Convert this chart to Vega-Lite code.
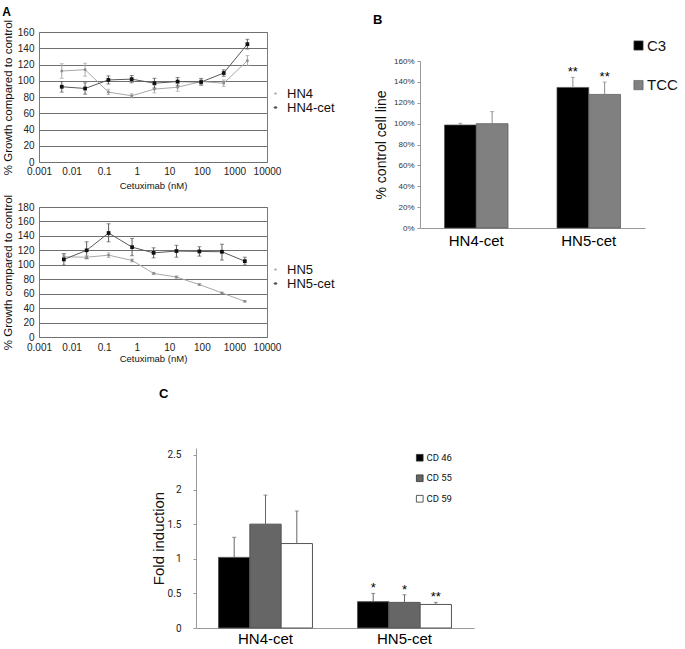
{
  "$schema": "https://vega.github.io/schema/vega-lite/v6.json",
  "padding": {"left": 1, "top": 5, "right": 0, "bottom": 0},
  "background": "white",
  "config": {
    "font": "Liberation Sans",
    "view": {"stroke": null},
    "axis": {"labelFont": "Liberation Sans", "titleFont": "Liberation Sans", "titleFontWeight": "normal", "labelColor": "#222", "titleColor": "#111"},
    "title": {"font": "Liberation Sans", "fontWeight": "bold", "fontSize": 13, "anchor": "start", "frame": "bounds", "color": "#000"},
    "legend": {"labelFont": "Liberation Sans", "labelColor": "#111", "padding": 0}
  },
  "datasets": {
    "aTop": [
      {"dose": 0.005, "v": 112, "lo": 103, "hi": 121, "s": "HN4"},
      {"dose": 0.026, "v": 113.6, "lo": 105.6, "hi": 121.6, "s": "HN4"},
      {"dose": 0.135, "v": 86, "lo": 83, "hi": 89.5, "s": "HN4"},
      {"dose": 0.7, "v": 81.5, "lo": 79, "hi": 84, "s": "HN4"},
      {"dose": 3.5, "v": 89.7, "lo": 85, "hi": 94.5, "s": "HN4"},
      {"dose": 18, "v": 92, "lo": 87, "hi": 97, "s": "HN4"},
      {"dose": 95, "v": 99, "lo": 95, "hi": 103, "s": "HN4"},
      {"dose": 470, "v": 97, "lo": 93, "hi": 101, "s": "HN4"},
      {"dose": 2500, "v": 124.7, "lo": 119, "hi": 131, "s": "HN4"},
      {"dose": 0.005, "v": 92.6, "lo": 86, "hi": 99, "s": "HN4-cet"},
      {"dose": 0.026, "v": 90.5, "lo": 83.5, "hi": 97.5, "s": "HN4-cet"},
      {"dose": 0.135, "v": 101, "lo": 96, "hi": 106, "s": "HN4-cet"},
      {"dose": 0.7, "v": 102, "lo": 97.5, "hi": 106.5, "s": "HN4-cet"},
      {"dose": 3.5, "v": 97, "lo": 91, "hi": 103, "s": "HN4-cet"},
      {"dose": 18, "v": 99, "lo": 94, "hi": 104, "s": "HN4-cet"},
      {"dose": 95, "v": 98.4, "lo": 94.5, "hi": 102.5, "s": "HN4-cet"},
      {"dose": 470, "v": 109.5, "lo": 105.5, "hi": 113.5, "s": "HN4-cet"},
      {"dose": 2500, "v": 145, "lo": 139, "hi": 151, "s": "HN4-cet"}
    ],
    "aBot": [
      {"dose": 0.0058, "v": 111, "lo": 108, "hi": 114, "s": "HN5"},
      {"dose": 0.029, "v": 110.5, "lo": 108, "hi": 113, "s": "HN5"},
      {"dose": 0.137, "v": 113.3, "lo": 110, "hi": 116.5, "s": "HN5"},
      {"dose": 0.72, "v": 106, "lo": 104, "hi": 108, "s": "HN5"},
      {"dose": 3.3, "v": 88, "lo": 86.5, "hi": 89.5, "s": "HN5"},
      {"dose": 16.6, "v": 83, "lo": 81.5, "hi": 84.5, "s": "HN5"},
      {"dose": 84, "v": 72.6, "lo": 71.5, "hi": 73.7, "s": "HN5"},
      {"dose": 414, "v": 61, "lo": 60, "hi": 62, "s": "HN5"},
      {"dose": 2084, "v": 49.4, "lo": 48.5, "hi": 50.3, "s": "HN5"},
      {"dose": 0.0058, "v": 107.4, "lo": 99.5, "hi": 115.5, "s": "HN5-cet"},
      {"dose": 0.029, "v": 120, "lo": 108.7, "hi": 131.8, "s": "HN5-cet"},
      {"dose": 0.137, "v": 144, "lo": 131.8, "hi": 156.8, "s": "HN5-cet"},
      {"dose": 0.72, "v": 124.4, "lo": 112.5, "hi": 136.5, "s": "HN5-cet"},
      {"dose": 3.3, "v": 116.5, "lo": 109.6, "hi": 123.5, "s": "HN5-cet"},
      {"dose": 16.6, "v": 119, "lo": 110.5, "hi": 127, "s": "HN5-cet"},
      {"dose": 84, "v": 118.5, "lo": 112, "hi": 125, "s": "HN5-cet"},
      {"dose": 414, "v": 118, "lo": 106.5, "hi": 128.5, "s": "HN5-cet"},
      {"dose": 2084, "v": 105, "lo": 99.5, "hi": 110.5, "s": "HN5-cet"}
    ],
    "b": [
      {"cell": "HN4-cet", "s": "C3", "v": 0.987, "hi": 1.003, "sig": ""},
      {"cell": "HN4-cet", "s": "TCC", "v": 1.0, "hi": 1.115, "sig": ""},
      {"cell": "HN5-cet", "s": "C3", "v": 1.347, "hi": 1.443, "sig": "**"},
      {"cell": "HN5-cet", "s": "TCC", "v": 1.28, "hi": 1.398, "sig": "**"}
    ],
    "c": [
      {"cell": "HN4-cet", "s": "CD 46", "v": 1.02, "hi": 1.31, "sig": ""},
      {"cell": "HN4-cet", "s": "CD 55", "v": 1.5, "hi": 1.92, "sig": ""},
      {"cell": "HN4-cet", "s": "CD 59", "v": 1.22, "hi": 1.69, "sig": ""},
      {"cell": "HN5-cet", "s": "CD 46", "v": 0.38, "hi": 0.5, "sig": "*"},
      {"cell": "HN5-cet", "s": "CD 55", "v": 0.37, "hi": 0.48, "sig": "*"},
      {"cell": "HN5-cet", "s": "CD 59", "v": 0.34, "hi": 0.37, "sig": "**"}
    ]
  },
  "columns": 1,
  "align": "none",
  "spacing": 25,
  "resolve": {"scale": {"color": "independent", "fill": "independent", "size": "independent", "xOffset": "independent"}, "legend": {"color": "independent", "fill": "independent", "size": "independent"}},
  "concat": [
    {
      "columns": 2,
      "align": "none",
      "spacing": 37,
      "resolve": {"scale": {"color": "independent", "fill": "independent", "size": "independent", "xOffset": "independent"}, "legend": {"color": "independent", "fill": "independent", "size": "independent"}},
      "concat": [
        {
          "columns": 1,
          "align": "none",
          "spacing": 2,
          "resolve": {"scale": {"color": "independent", "fill": "independent", "size": "independent"}, "legend": {"color": "independent", "fill": "independent", "size": "independent"}},
          "concat": [
            {
              "width": 228, "height": 130,
              "view": {"stroke": "#7a7a7a", "strokeWidth": 1},
              "title": {"text": "A", "offset": 0.5, "fontSize": 12},
              "data": {"name": "aTop"},
              "encoding": {
                "x": {"field": "dose", "type": "quantitative", "scale": {"type": "log", "domain": [0.001, 10000]},
                  "axis": {"values": [0.001, 0.01, 0.1, 1, 10, 100, 1000, 10000], "tickCount": 20, "format": "~g", "labelFlush": false, "labelOverlap": false, "grid": false, "domain": false, "ticks": false, "labelFontSize": 10, "labelPadding": 4.5, "title": "Cetuximab (nM)", "titleFontSize": 9.5, "titlePadding": 4}}
              },
              "layer": [
                {"mark": {"type": "line", "strokeWidth": 1},
                  "encoding": {
                    "y": {"field": "v", "type": "quantitative", "title": "% Growth compared to control", "scale": {"domain": [0, 160]},
                      "axis": {"values": [0, 20, 40, 60, 80, 100, 120, 140, 160], "tickCount": 20, "labelExpr": "'' + datum.value", "labelOverlap": false, "grid": true, "gridColor": "#707070", "domain": false, "ticks": false, "labelFontSize": 10, "labelPadding": 5, "titleFontSize": 11.5, "titlePadding": 4}},
                    "color": {"field": "s", "type": "nominal", "scale": {"domain": ["HN4", "HN4-cet"], "range": ["#a8a8a8", "#5a5a5a"]},
                      "legend": {"orient": "none", "legendX": 230, "legendY": 55, "title": null, "symbolType": "M-1,0H1M-0.3,-0.3H0.3V0.3H-0.3Z", "symbolSize": 81, "symbolStrokeWidth": 1.2, "labelFontSize": 13, "labelOffset": 5, "rowPadding": -2}}
                  }},
                {"mark": {"type": "rule", "strokeWidth": 1},
                  "encoding": {"y": {"field": "lo", "type": "quantitative", "title": "% Growth compared to control"}, "y2": {"field": "hi"},
                    "color": {"field": "s", "type": "nominal", "legend": null}}},
                {"mark": {"type": "tick", "orient": "horizontal", "size": 4, "thickness": 1},
                  "encoding": {"y": {"field": "lo", "type": "quantitative", "title": "% Growth compared to control"},
                    "color": {"field": "s", "type": "nominal", "legend": null}}},
                {"mark": {"type": "tick", "orient": "horizontal", "size": 4, "thickness": 1},
                  "encoding": {"y": {"field": "hi", "type": "quantitative", "title": "% Growth compared to control"},
                    "color": {"field": "s", "type": "nominal", "legend": null}}},
                {"mark": {"type": "square", "opacity": 1, "strokeWidth": 0},
                  "encoding": {"y": {"field": "v", "type": "quantitative", "title": "% Growth compared to control"},
                    "fill": {"field": "s", "type": "nominal", "scale": {"domain": ["HN4", "HN4-cet"], "range": ["#8a8a8a", "#111111"]}, "legend": null},
                    "size": {"field": "s", "type": "nominal", "scale": {"domain": ["HN4", "HN4-cet"], "range": [6, 14]}, "legend": null}}}
              ]
            },
            {
              "width": 228, "height": 130,
              "view": {"stroke": "#7a7a7a", "strokeWidth": 1},
              "data": {"name": "aBot"},
              "encoding": {
                "x": {"field": "dose", "type": "quantitative", "scale": {"type": "log", "domain": [0.001, 10000]},
                  "axis": {"values": [0.001, 0.01, 0.1, 1, 10, 100, 1000, 10000], "tickCount": 20, "format": "~g", "labelFlush": false, "labelOverlap": false, "grid": false, "domain": false, "ticks": false, "labelFontSize": 10, "labelPadding": 5, "title": "Cetuximab (nM)", "titleFontSize": 9.5, "titlePadding": 1}}
              },
              "layer": [
                {"mark": {"type": "line", "strokeWidth": 1},
                  "encoding": {
                    "y": {"field": "v", "type": "quantitative", "title": "% Growth compared to control", "scale": {"domain": [0, 180]},
                      "axis": {"values": [0, 20, 40, 60, 80, 100, 120, 140, 160, 180], "tickCount": 20, "labelExpr": "'' + datum.value", "labelOverlap": false, "grid": true, "gridColor": "#707070", "domain": false, "ticks": false, "labelFontSize": 10, "labelPadding": 5, "titleFontSize": 11.5, "titlePadding": 4}},
                    "color": {"field": "s", "type": "nominal", "scale": {"domain": ["HN5", "HN5-cet"], "range": ["#a8a8a8", "#5a5a5a"]},
                      "legend": {"orient": "none", "legendX": 230, "legendY": 56, "title": null, "symbolType": "M-1,0H1M-0.3,-0.3H0.3V0.3H-0.3Z", "symbolSize": 81, "symbolStrokeWidth": 1.2, "labelFontSize": 13, "labelOffset": 5, "rowPadding": -2}}
                  }},
                {"mark": {"type": "rule", "strokeWidth": 1},
                  "encoding": {"y": {"field": "lo", "type": "quantitative", "title": "% Growth compared to control"}, "y2": {"field": "hi"},
                    "color": {"field": "s", "type": "nominal", "legend": null}}},
                {"mark": {"type": "tick", "orient": "horizontal", "size": 4, "thickness": 1},
                  "encoding": {"y": {"field": "lo", "type": "quantitative", "title": "% Growth compared to control"},
                    "color": {"field": "s", "type": "nominal", "legend": null}}},
                {"mark": {"type": "tick", "orient": "horizontal", "size": 4, "thickness": 1},
                  "encoding": {"y": {"field": "hi", "type": "quantitative", "title": "% Growth compared to control"},
                    "color": {"field": "s", "type": "nominal", "legend": null}}},
                {"mark": {"type": "square", "opacity": 1, "strokeWidth": 0},
                  "encoding": {"y": {"field": "v", "type": "quantitative", "title": "% Growth compared to control"},
                    "fill": {"field": "s", "type": "nominal", "scale": {"domain": ["HN5", "HN5-cet"], "range": ["#8a8a8a", "#111111"]}, "legend": null},
                    "size": {"field": "s", "type": "nominal", "scale": {"domain": ["HN5", "HN5-cet"], "range": [6, 14]}, "legend": null}}}
              ]
            }
          ]
        },
        {
          "columns": 1,
          "align": "none",
          "spacing": 0,
          "resolve": {"scale": {"color": "independent", "xOffset": "independent"}, "legend": {"color": "independent"}},
          "concat": [
            {"data": {"values": []}, "mark": "point", "width": 10, "height": 6,
              "title": {"text": "B", "offset": 5, "dx": -47}},
            {
              "width": 225, "height": 167,
              "data": {"name": "b"},
              "encoding": {
                "x": {"field": "cell", "type": "nominal", "scale": {"paddingInner": 0, "paddingOuter": 0},
                  "axis": {"title": null, "labelAngle": 0, "labelFontSize": 15, "labelPadding": 5, "ticks": false, "domainColor": "#999", "labelColor": "#000"}},
                "xOffset": {"field": "s", "type": "nominal", "scale": {"domain": ["C3", "TCC"], "paddingInner": 0, "paddingOuter": 0.77}}
              },
              "layer": [
                {"mark": {"type": "bar", "stroke": "#555", "strokeWidth": 0.7},
                  "encoding": {
                    "y": {"field": "v", "type": "quantitative", "title": "% control cell line", "scale": {"domain": [0, 1.6]},
                      "axis": {"values": [0, 0.2, 0.4, 0.6, 0.8, 1.0, 1.2, 1.4, 1.6], "tickCount": 20, "format": ".0%", "labelOverlap": false, "grid": false, "domainColor": "#999", "tickColor": "#999", "tickSize": 3, "labelFontSize": 8, "labelPadding": 3, "titleFontSize": 14, "titlePadding": 5, "labelColor": "#333"}},
                    "color": {"field": "s", "type": "nominal", "scale": {"domain": ["C3", "TCC"], "range": ["#000000", "#808080"]},
                      "legend": {"orient": "none", "legendX": 211, "legendY": -23, "title": null, "symbolType": "square", "symbolSize": 86, "symbolStrokeColor": "#555", "symbolStrokeWidth": 0.6, "labelFontSize": 15, "labelOffset": 1, "rowPadding": 23.6}}
                  }},
                {"mark": {"type": "rule", "color": "#8a8a8a", "strokeWidth": 1},
                  "encoding": {"y": {"field": "v", "type": "quantitative", "title": "% control cell line"}, "y2": {"field": "hi"}}},
                {"mark": {"type": "tick", "orient": "horizontal", "size": 4, "thickness": 1, "color": "#8a8a8a"},
                  "encoding": {"y": {"field": "hi", "type": "quantitative", "title": "% control cell line"}}},
                {"mark": {"type": "text", "baseline": "alphabetic", "dy": -1, "fontSize": 13, "font": "Liberation Sans", "color": "#000"},
                  "encoding": {"y": {"field": "hi", "type": "quantitative", "title": "% control cell line"}, "text": {"field": "sig"}}}
              ]
            }
          ]
        }
      ]
    },
    {
      "columns": 2,
      "align": "none",
      "spacing": 0,
      "resolve": {"scale": {"color": "independent", "xOffset": "independent"}, "legend": {"color": "independent"}},
      "concat": [
        {"data": {"values": []}, "mark": "point", "width": 112, "height": 10},
        {
          "width": 278, "height": 180,
          "title": {"text": "C", "offset": 47, "dx": 8},
          "data": {"name": "c"},
          "encoding": {
            "x": {"field": "cell", "type": "nominal", "scale": {"paddingInner": 0, "paddingOuter": 0},
              "axis": {"title": null, "labelAngle": 0, "labelFontSize": 15, "labelPadding": 3, "ticks": false, "domainColor": "#999", "labelColor": "#000"}},
            "xOffset": {"field": "s", "type": "nominal", "scale": {"domain": ["CD 46", "CD 55", "CD 59"], "paddingInner": 0, "paddingOuter": 0.72}}
          },
          "layer": [
            {"mark": {"type": "bar", "stroke": "#555", "strokeWidth": 1},
              "encoding": {
                "y": {"field": "v", "type": "quantitative", "title": "Fold induction", "scale": {"domain": [0, 2.5]},
                  "axis": {"values": [0, 0.5, 1, 1.5, 2, 2.5], "tickCount": 20, "labelExpr": "'' + datum.value", "labelOverlap": false, "grid": false, "domainColor": "#999", "tickColor": "#999", "tickSize": 3, "labelFont": "Roboto", "labelFontSize": 10, "labelPadding": 12, "titleFontSize": 15, "titlePadding": 1, "labelColor": "#222"}},
                "color": {"field": "s", "type": "nominal", "scale": {"domain": ["CD 46", "CD 55", "CD 59"], "range": ["#000000", "#666666", "#ffffff"]},
                  "legend": {"orient": "none", "legendX": 219, "legendY": 5, "title": null, "symbolType": "square", "symbolSize": 45, "symbolStrokeColor": "#333", "symbolStrokeWidth": 0.8, "labelFont": "Roboto", "labelFontSize": 9.5, "labelOffset": 2, "rowPadding": 9.5}}
              }},
            {"mark": {"type": "rule", "color": "#666", "strokeWidth": 1},
              "encoding": {"y": {"field": "v", "type": "quantitative", "title": "Fold induction"}, "y2": {"field": "hi"}}},
            {"mark": {"type": "tick", "orient": "horizontal", "size": 4, "thickness": 1, "color": "#666"},
              "encoding": {"y": {"field": "hi", "type": "quantitative", "title": "Fold induction"}}},
            {"mark": {"type": "text", "baseline": "alphabetic", "dy": -1, "fontSize": 13, "font": "Liberation Sans", "color": "#000"},
              "encoding": {"y": {"field": "hi", "type": "quantitative", "title": "Fold induction"}, "text": {"field": "sig"}}}
          ]
        }
      ]
    }
  ]
}
